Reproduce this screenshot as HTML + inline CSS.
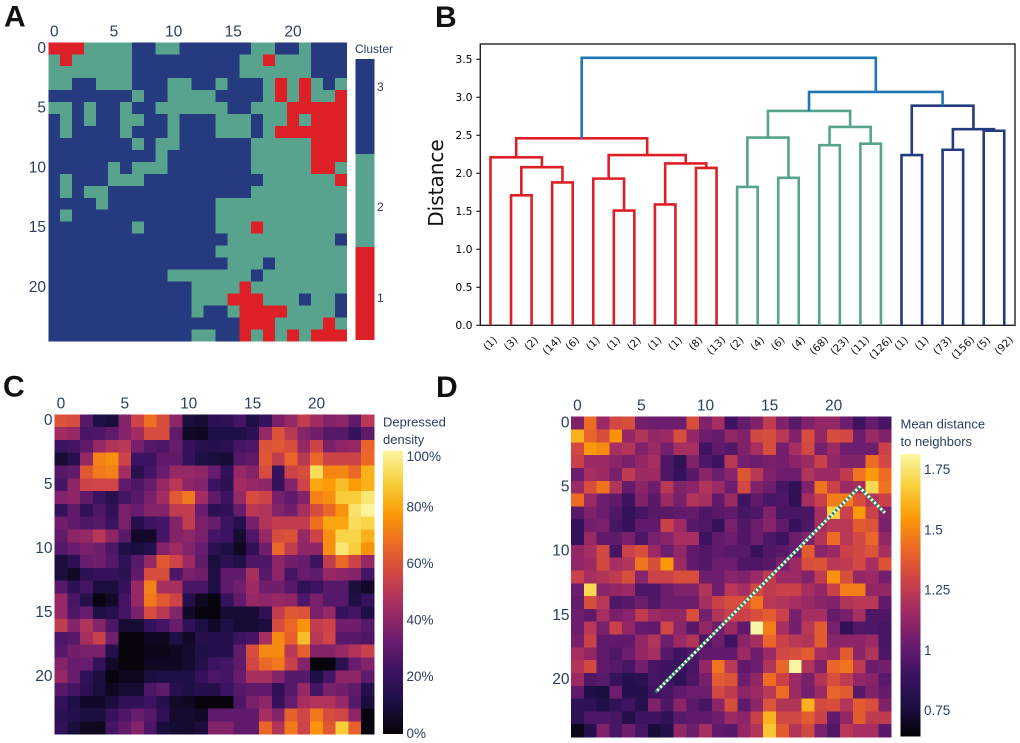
<!DOCTYPE html>
<html lang="en">
<head>
<meta charset="utf-8">
<title>Cluster maps and dendrogram</title>
<style>
html,body{margin:0;padding:0;background:#fff;}
#figure{display:block;width:1020px;height:743px;}
text{font-family:"Liberation Sans",sans-serif;}
</style>
</head>
<body>
<svg id="figure" xmlns="http://www.w3.org/2000/svg" width="1020" height="743" viewBox="0 0 1020 743">
  <g font-weight="700" font-size="30" fill="#111">
    <text x="4" y="26.5">A</text>
    <text x="435" y="27">B</text>
    <text x="3" y="396.5">C</text>
    <text x="436" y="397">D</text>
  </g>
</svg>
<script>
/* Panel A: cluster id per cell */
const clusterGrid = [
[1,1,1,2,2,2,2,3,3,2,2,3,3,3,3,3,3,2,2,3,3,2,3,3,3],
[2,1,2,2,2,2,2,3,3,3,3,3,3,3,3,3,2,2,1,2,2,2,3,3,3],
[2,2,2,2,2,2,2,3,3,3,3,3,3,3,3,3,2,2,2,2,2,2,3,3,3],
[2,2,3,3,2,2,2,3,3,3,2,2,3,3,2,3,3,3,2,1,2,1,2,3,2],
[3,3,3,3,3,3,3,2,3,3,2,2,2,2,3,3,3,3,2,1,2,1,2,2,1],
[2,2,3,2,3,3,2,3,3,2,2,2,2,2,2,3,3,2,2,2,1,1,1,1,1],
[3,2,3,2,3,3,2,2,3,3,2,3,3,3,2,2,2,3,2,2,1,2,1,1,1],
[3,2,3,3,3,3,2,3,3,3,2,3,3,3,2,2,2,3,2,1,1,1,1,1,1],
[3,3,3,3,3,3,3,2,3,2,2,3,3,3,3,3,3,2,2,2,2,2,1,1,1],
[3,3,3,3,3,3,3,3,3,2,3,3,3,3,3,3,3,2,2,2,2,2,1,1,1],
[3,3,3,3,3,2,3,2,2,2,3,3,3,3,3,3,3,2,2,2,2,2,1,1,2],
[3,2,3,3,3,2,2,2,3,3,3,3,3,3,3,3,3,3,2,2,2,2,2,2,1],
[3,2,3,2,2,3,3,3,3,3,3,3,3,3,3,3,3,2,2,2,2,2,2,2,2],
[3,3,3,3,2,3,3,3,3,3,3,3,3,3,2,2,2,2,2,2,2,2,2,2,2],
[3,2,3,3,3,3,3,3,3,3,3,3,3,3,2,2,2,2,2,2,2,2,2,2,2],
[3,3,3,3,3,3,3,2,3,3,3,3,3,3,2,2,2,1,2,2,2,2,2,2,2],
[3,3,3,3,3,3,3,3,3,3,3,3,3,3,3,2,2,2,2,2,2,2,2,2,3],
[3,3,3,3,3,3,3,3,3,3,3,3,3,3,2,2,2,2,2,2,2,2,2,2,2],
[3,3,3,3,3,3,3,3,3,3,3,3,3,3,3,2,2,2,3,2,2,2,2,2,2],
[3,3,3,3,3,3,3,3,3,3,2,2,2,2,2,2,2,3,2,2,2,2,2,2,2],
[3,3,3,3,3,3,3,3,3,3,3,3,2,2,2,2,1,2,2,2,2,2,2,2,2],
[3,3,3,3,3,3,3,3,3,3,3,3,2,2,2,1,1,1,2,2,2,3,2,2,3],
[3,3,3,3,3,3,3,3,3,3,3,3,2,3,3,2,1,1,1,1,2,2,2,2,3],
[3,3,3,3,3,3,3,3,3,3,3,3,3,3,3,3,1,1,1,2,2,2,2,1,2],
[3,3,3,3,3,3,3,3,3,3,3,3,2,2,3,3,1,2,1,2,1,2,1,1,1]
];
const clusterLegend = [3,2,1];
const clusterLegendShare = [95,93,93];

/* Panel B: dendrogram linkage; node ids above 25 are merges in order */
const leafLabels = ["(1)","(3)","(2)","(14)","(6)","(1)","(1)","(2)","(1)","(1)","(8)","(13)","(2)","(4)","(6)","(4)","(68)","(23)","(11)","(126)","(1)","(1)","(73)","(156)","(5)","(92)"];
const mergeLeft    = [1,3,26,0,6,5,8,10,32,31,29,12,14,37,16,18,40,39,20,22,24,45,44,43,36];
const mergeRight   = [2,4,27,28,7,30,9,11,33,34,35,13,15,38,17,19,41,42,21,23,25,46,47,48,49];
const mergeHeight  = [1.71,1.88,2.08,2.21,1.51,1.93,1.59,2.07,2.13,2.24,2.46,1.82,1.94,2.47,2.37,2.39,2.61,2.82,2.24,2.31,2.56,2.58,2.89,3.07,3.52];
const mergeCluster = [1,1,1,1,1,1,1,1,1,1,1,2,2,2,2,2,2,2,3,3,3,3,3,0,0];
const distanceTicks = [0,0.5,1,1.5,2,2.5,3,3.5];

/* Panel C: depressed density, percent */
const densityGrid = [
[60,58,28,12,10,38,55,68,58,40,10,8,16,18,24,12,20,36,42,52,45,38,40,30,50],
[45,42,25,26,30,38,45,58,58,30,6,5,12,12,12,16,42,60,50,38,34,28,28,20,30],
[22,24,30,42,48,50,35,28,26,32,20,15,14,16,24,26,60,62,58,42,55,36,40,42,65],
[8,15,42,72,75,55,22,22,30,30,20,12,10,8,28,30,62,52,65,50,66,55,55,55,66],
[28,30,62,70,72,45,15,24,32,42,42,40,32,18,42,38,58,20,55,58,92,73,73,66,82],
[24,40,55,56,56,30,26,32,42,50,40,38,22,16,45,42,40,20,38,55,80,78,85,78,82],
[38,40,30,22,15,24,28,36,45,62,70,45,30,22,42,58,55,35,30,38,72,75,88,88,95],
[20,30,18,26,18,36,32,38,38,52,52,32,16,18,32,50,48,38,34,46,58,66,76,94,99],
[34,30,26,28,22,36,14,22,24,38,52,36,32,22,14,35,48,52,52,52,68,80,80,92,90],
[30,40,42,50,40,28,6,6,24,38,40,36,24,22,8,26,42,58,60,42,55,75,90,90,82],
[28,32,36,34,26,12,10,14,38,44,38,32,16,12,5,18,34,66,52,40,40,75,95,88,76],
[10,16,32,34,28,18,28,42,62,55,44,30,10,16,12,26,26,40,34,32,22,52,66,55,42],
[10,6,16,20,20,16,30,58,58,26,36,34,12,30,30,46,28,40,24,32,30,42,40,38,24],
[28,16,24,10,10,20,42,72,46,46,25,25,12,30,34,44,34,34,28,18,22,28,28,10,6],
[42,25,14,1,6,24,42,70,62,55,14,5,1,20,30,42,40,42,40,26,36,28,28,12,20],
[42,26,32,12,14,24,36,58,50,38,6,1,1,8,8,8,18,52,62,60,36,42,20,24,12],
[52,38,48,38,26,8,8,20,24,32,18,12,6,12,8,8,10,58,66,76,52,55,34,34,28],
[26,28,46,54,34,1,1,5,5,12,6,14,14,14,22,24,46,74,64,85,50,56,28,28,26],
[28,34,36,36,14,1,1,3,3,5,7,12,14,14,30,58,74,74,50,64,38,38,42,48,54],
[38,32,32,20,6,1,1,5,5,5,7,14,22,24,30,56,66,70,54,38,1,1,16,32,38],
[42,32,18,10,1,4,4,10,12,12,12,20,26,24,32,46,46,38,28,28,12,24,40,40,30],
[28,24,16,10,4,8,8,26,30,14,12,14,14,22,28,30,30,18,28,42,24,36,34,30,14],
[20,12,6,6,10,18,18,22,14,6,5,1,1,1,26,36,40,20,32,46,48,48,42,28,10],
[16,14,10,10,20,26,32,28,18,7,7,6,30,30,30,30,46,38,64,56,70,58,56,40,1],
[18,10,5,4,24,30,38,26,10,8,7,10,38,38,30,30,65,48,70,55,76,62,88,64,1]
];
const densityTicks = [0,20,40,60,80,100];
const densityTickLabels = ["0%","20%","40%","60%","80%","100%"];

/* Panel D: mean distance to neighbors */
const distanceGrid = [
[1.05,1.40,1.12,1.28,1.30,1.02,1.0,1.0,1.0,1.30,1.05,1.15,.88,.98,1.05,1.22,1.05,.95,1.05,1.1,1.1,1.0,.88,.98,.9],
[1.58,1.38,1.30,1.50,1.1,1.18,1.1,1.12,1.3,1.1,1.0,.98,1.1,1.05,1.28,1.3,1.2,1.05,1.3,1.1,1.3,1.28,1.0,1.12,1.05],
[1.28,1.52,1.48,1.15,1.18,1.05,1.12,1.02,1.15,1.15,.88,.97,.93,1.05,1.15,1.3,1.02,1.15,1.28,1.02,1.12,1.0,1.0,1.0,1.25],
[1.25,1.12,1.12,1.08,1.03,1.1,1.15,.92,.82,1.05,.92,.88,1.2,1.02,1.0,1.03,1.02,1.08,1.12,1.25,1.1,1.05,1.05,1.4,1.28],
[1.0,1.15,1.13,1.03,1.22,1.12,1.13,.92,.85,.95,1.08,1.0,1.07,1.33,1.2,1.05,1.0,1.0,1.18,1.12,1.12,1.22,1.42,1.52,1.4],
[1.12,1.3,1.42,1.18,.98,1.08,1.0,1.2,1.05,1.08,1.18,1.12,1.0,1.28,1.05,1.0,.9,.82,1.05,1.42,1.25,1.12,1.15,1.68,1.42],
[1.4,1.12,1.0,.97,.88,1.05,.95,1.12,1.03,1.18,1.15,.97,1.12,.88,.97,.9,.92,.82,1.15,1.25,1.45,1.45,1.3,1.18,1.25],
[.95,1.05,1.0,.93,.83,.9,.95,.95,.97,.98,.92,.95,.97,.9,.92,1.05,.9,.9,.9,1.15,1.65,1.25,1.52,1.25,1.05],
[.85,1.02,1.03,.9,.85,.97,.97,1.25,1.13,.95,.93,.84,1.03,.93,1.0,1.07,.97,.85,.92,1.15,1.2,1.2,1.35,1.32,1.03],
[.85,1.12,.97,.97,1.03,.92,1.03,1.07,1.15,1.15,.87,.97,1.0,.93,1.0,.92,.88,1.0,1.05,1.18,1.4,1.2,1.28,1.38,1.1],
[1.1,1.15,1.28,.9,1.25,1.3,1.12,1.0,1.1,.97,.93,.97,.95,.95,.85,.93,.95,1.0,1.35,1.07,1.12,1.25,1.28,1.32,1.15],
[1.1,1.12,1.28,1.15,1.18,1.42,1.3,1.52,1.12,.97,.93,1.0,1.0,.92,.92,.95,1.03,1.12,1.3,1.32,1.2,1.22,1.28,1.15,1.32],
[1.25,1.15,1.18,1.22,1.3,1.07,1.25,1.25,1.3,1.3,1.0,1.0,1.07,1.05,1.12,1.22,1.12,1.12,1.05,1.22,1.5,1.3,1.1,1.12,1.02],
[1.0,1.68,1.07,1.1,1.12,.92,.92,1.0,1.05,1.05,1.18,1.0,1.2,1.15,1.28,1.22,1.25,1.25,1.15,1.1,1.25,1.45,1.45,1.1,1.1],
[.98,1.3,1.2,.93,.95,1.0,.93,1.0,1.0,1.0,1.15,1.25,1.3,1.3,1.42,1.2,1.18,1.15,1.12,1.07,1.05,1.18,1.2,1.2,.97],
[1.0,.97,1.15,1.03,1.07,1.22,1.12,1.1,1.1,1.3,1.02,1.18,1.25,1.25,1.3,1.35,1.25,1.03,1.15,1.15,.98,1.03,1.15,.92,.92],
[1.0,1.2,1.03,1.25,1.1,.98,.97,1.27,1.07,.95,1.1,1.0,1.12,.97,1.82,1.45,1.15,1.02,1.2,1.35,1.03,.83,.93,.92,.9],
[1.03,1.25,.97,.97,.97,1.1,1.18,1.0,1.12,1.18,.92,1.0,.88,1.07,1.15,1.38,1.25,1.2,1.18,1.35,1.07,1.08,1.08,1.12,.9],
[1.15,1.1,.97,.92,1.0,1.1,1.15,.95,.88,.92,.97,.97,.97,1.12,1.0,1.12,1.28,1.3,1.35,1.15,1.12,1.35,1.08,1.18,.92],
[1.18,1.28,.97,.95,.9,1.02,.9,.88,.85,.9,1.1,1.42,1.2,.97,1.0,1.18,1.38,1.82,1.18,1.05,1.38,1.42,1.22,1.0,1.02],
[1.12,.93,.95,.85,.78,.8,.9,.88,.82,.92,1.03,1.35,1.32,1.0,1.1,1.4,1.25,1.12,1.03,1.18,1.3,1.22,1.1,1.07,.95],
[.97,.75,.73,1.0,.78,.78,.88,.9,.97,1.0,1.0,1.28,1.22,1.08,1.12,1.2,1.4,1.12,1.02,1.12,1.38,1.35,.95,1.05,.98],
[.82,.82,.76,.83,.88,.79,1.05,.92,1.08,.95,.9,1.08,1.3,.97,1.08,1.32,1.18,1.18,1.58,1.28,1.3,1.18,1.35,1.3,1.05],
[.82,.92,.92,.9,.77,.88,.88,.83,.95,.97,.97,1.0,1.12,1.08,1.25,1.58,1.28,1.28,1.35,1.25,.97,1.1,1.35,1.22,1.22],
[.65,.78,1.05,.9,1.0,.9,.72,.77,1.1,1.0,1.15,.97,.95,1.1,1.18,1.63,1.35,1.18,1.28,1.03,.93,1.2,1.15,1.15,.95]
];
const distanceColorTicks = [0.75,1,1.25,1.5,1.75];
const distanceColorLabels = ["0.75","1","1.25","1.5","1.75"];
const pathCols = [6.1,22,24];
const pathRows = [21,5,7];

const gridTicks = [0,5,10,15,20];

const svg = document.getElementById('figure');
const NS = 'http://www.w3.org/2000/svg';
const navy = '#253a7f', teal = '#58a38d', red = '#dd2027', steel = '#1f77b4', ink = '#2a3f5f';
const clusterColor = {1: red, 2: teal, 3: navy, 0: steel};
const inferno = ['#050308','#1d0f45','#3c1362','#6e1d6e','#a12b63','#cf4446','#ed6925','#fb9b06','#f7d13d','#fcf7a4'];

function mk(tag, attrs, parent) {
  const el = document.createElementNS(NS, tag);
  for (const k in attrs) el.setAttribute(k, attrs[k]);
  (parent || svg).appendChild(el);
  return el;
}
function colorAt(t) {
  t = Math.max(0, Math.min(1, t)) * (inferno.length - 1);
  const i = Math.min(Math.floor(t), inferno.length - 2), f = t - i;
  const a = inferno[i], b = inferno[i + 1];
  const ch = s => parseInt(a.substr(s, 2), 16) * (1 - f) + parseInt(b.substr(s, 2), 16) * f;
  return 'rgb(' + Math.round(ch(1)) + ',' + Math.round(ch(3)) + ',' + Math.round(ch(5)) + ')';
}
function label(parent, x, y, str, size, anchor, name) {
  const t = mk('text', {x: x, y: y, 'font-size': size, 'text-anchor': anchor, 'dominant-baseline': 'central', fill: ink}, parent);
  t.textContent = str;
  
  
  return t;
}
function heatmap(panel, grid, colorFn, box, name) {
  const g = mk('g', {});
  
  
  const n = grid.length;
  const sx = c => box.x0 + (box.x1 - box.x0) * c / n;
  const sy = r => box.y0 + (box.y1 - box.y0) * r / n;
  grid.forEach((row, r) => row.forEach((v, c) => {
    const rect = mk('rect', {x: sx(c), y: sy(r), width: sx(c + 1) - sx(c) + 0.4, height: sy(r + 1) - sy(r) + 0.4, fill: colorFn(v), 'shape-rendering': 'crispEdges'}, g);
    
    
  }));
  gridTicks.forEach(t => {
    label(g, sx(t + 0.5), box.xLabelY, String(t), 15.5, 'middle', panel + '-x-tick-label');
    label(g, box.yLabelX, sy(t + 0.5), String(t), 15.5, 'end', panel + '-y-tick-label');
  });
  return {sx: sx, sy: sy};
}
function colorbar(panel, bx, by0, by1, scale, ticks, labels, labelX, title, titleX, titleY, lineH) {
  const g = mk('g', {});
  
  
  const steps = 120;
  for (let i = 0; i < steps; i++) {
    const s = mk('rect', {x: bx, y: by0 + (by1 - by0) * i / steps, width: 20, height: (by1 - by0) / steps + 0.6, fill: colorAt(1 - (i + 0.5) / steps), 'shape-rendering': 'crispEdges'}, g);
    
    
  }
  ticks.forEach((v, i) => {
    let y = by1 - (by1 - by0) * scale(v);
    if (y < by0 + 6) y = by0 + 6;
    label(g, labelX, y, labels[i], 13.5, 'start', panel + '-colorbar-tick-label');
  });
  title.forEach((line, i) => label(g, titleX, titleY + i * lineH, line, 13, 'start', panel + '-colorbar-title'));
}

/* ---- Panel A ---- */
heatmap('cluster', clusterGrid, v => clusterColor[v], {x0: 48.3, x1: 346.7, y0: 42.3, y1: 341.3, xLabelY: 32, yLabelX: 46}, 'cluster-cell');
(function () {
  const g = mk('g', {});
  
  
  const total = clusterLegendShare.reduce((a, b) => a + b, 0);
  const top = 59, height = 281;
  let acc = 0;
  clusterLegend.forEach((c, i) => {
    const y0 = top + height * acc / total;
    const h = height * clusterLegendShare[i] / total;
    acc += clusterLegendShare[i];
    const r = mk('rect', {x: 355.5, y: y0, width: 19, height: h, fill: clusterColor[c]}, g);
    
    
  });
  label(g, 355, 49, 'Cluster', 12, 'start', 'cluster-legend-title');
  label(g, 377, 87, '3', 12, 'start', 'cluster-legend-label');
  label(g, 377, 207, '2', 12, 'start', 'cluster-legend-label');
  label(g, 377, 298, '1', 12, 'start', 'cluster-legend-label');
})();

/* ---- Panel B ---- */
(function () {
  const left = 480.3, right = 1015, top = 44, bottom = 325.3;
  const leafX = i => 490.5 + i * 20.55;
  const distY = d => 325.3 - d * 76;
  const g = mk('g', {});
  
  
  const frame = mk('rect', {x: left, y: top, width: right - left, height: bottom - top, fill: 'none', stroke: '#222', 'stroke-width': 1.4}, g);
  
  

  const nodeX = i => i < leafLabels.length ? leafX(i) : posX[i];
  const nodeH = i => i < leafLabels.length ? 0 : mergeHeight[i - leafLabels.length];
  const posX = {};
  mergeHeight.forEach((h, m) => {
    const id = m + leafLabels.length;
    const a = mergeLeft[m], b = mergeRight[m];
    const xa = nodeX(a), xb = nodeX(b);
    posX[id] = (xa + xb) / 2;
    const link = mk('path', {
      d: 'M' + xa + ' ' + distY(nodeH(a)) + 'V' + distY(h) + 'H' + xb + 'V' + distY(nodeH(b)),
      fill: 'none', stroke: clusterColor[mergeCluster[m]], 'stroke-width': 2.6
    }, g);
    
    
  });

  distanceTicks.forEach(d => {
    const tick = mk('line', {x1: left - 4, x2: left, y1: distY(d), y2: distY(d), stroke: '#222', 'stroke-width': 1.2}, g);
    
    
    const t = mk('text', {x: 472.5, y: distY(d), 'font-size': 10.8, 'text-anchor': 'end', 'dominant-baseline': 'central', fill: '#000', style: 'font-family:"DejaVu Sans",sans-serif'}, g);
    t.textContent = d.toFixed(1);
    
    
  });
  leafLabels.forEach((s, i) => {
    const x = leafX(i);
    const len = s.length * 6.1;
    const cy = 334 + (len + 9) * 0.707 / 2;
    const t = mk('text', {x: x, y: cy, 'font-size': 10.3, 'text-anchor': 'middle', 'dominant-baseline': 'central', fill: '#111', transform: 'rotate(-45 ' + x + ' ' + cy + ')', style: 'font-family:"DejaVu Sans",sans-serif'}, g);
    t.textContent = s;
    
    
  });
  const yt = mk('text', {x: 436, y: 183, 'font-size': 20, 'text-anchor': 'middle', 'dominant-baseline': 'central', fill: '#111', transform: 'rotate(-90 436 183)', style: 'font-family:"DejaVu Sans",sans-serif'}, g);
  yt.textContent = 'Distance';
  
  
})();

/* ---- Panel C ---- */
heatmap('density', densityGrid, v => colorAt(v / 100), {x0: 54.5, x1: 374, y0: 414.3, y1: 734.3, xLabelY: 404, yLabelX: 52.5}, 'density-cell');
colorbar('density', 383, 450.3, 733.3, v => v / 100, densityTicks, densityTickLabels, 406.5, ['Depressed', 'density'], 383, 422, 17.5);

/* ---- Panel D ---- */
const scaleMin = 0.645, scaleMax = 1.815, readingBias = 0.03;
const dist = heatmap('distance', distanceGrid, v => colorAt((v + readingBias - scaleMin) / (scaleMax - scaleMin)), {x0: 571, x1: 891.3, y0: 416.7, y1: 737, xLabelY: 406, yLabelX: 569.5}, 'distance-cell');
colorbar('distance', 900.7, 454, 736, v => (v - scaleMin) / (scaleMax - scaleMin), distanceColorTicks, distanceColorLabels, 924, ['Mean distance', 'to neighbors'], 900.5, 424, 17.5);
(function () {
  const pts = pathCols.map((c, i) => dist.sx(c + 0.5) + ',' + dist.sy(pathRows[i] + 0.5)).join(' ');
  const base = mk('polyline', {points: pts, fill: 'none', stroke: '#ffffff', 'stroke-width': 3});
  
  
  const dots = mk('polyline', {points: pts, fill: 'none', stroke: '#1a8a4a', 'stroke-width': 3, 'stroke-dasharray': '2.2 2.2'});
  
  
})();
</script>
</body>
</html>
